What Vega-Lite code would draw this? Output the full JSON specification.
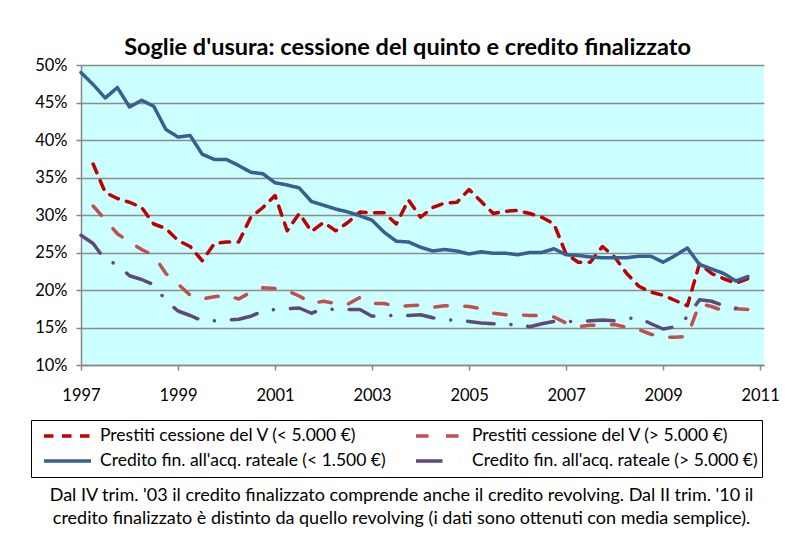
{
  "$schema": "https://vega.github.io/schema/vega-lite/v6.json",
  "width": 683,
  "height": 300,
  "padding": {"left": 30, "top": 35, "right": 5, "bottom": 5},
  "background": "white",
  "title": {
    "text": "Soglie d'usura: cessione del quinto e credito finalizzato",
    "font": "Lato",
    "fontSize": 23.5,
    "fontWeight": "bold",
    "color": "black",
    "offset": -2,
    "dx": -15
  },
  "data": {
    "values": [
      {"t": 1997.00, "p1": null, "p2": null, "c1": 49.0, "c2": 27.3},
      {"t": 1997.25, "p1": 36.8, "p2": 31.2, "c1": 47.4, "c2": 26.2},
      {"t": 1997.50, "p1": 33.0, "p2": 29.4, "c1": 45.6, "c2": 24.0},
      {"t": 1997.75, "p1": 32.2, "p2": 27.5, "c1": 47.0, "c2": 23.4},
      {"t": 1998.00, "p1": 31.7, "p2": 26.4, "c1": 44.4, "c2": 21.9},
      {"t": 1998.25, "p1": 31.0, "p2": 25.4, "c1": 45.3, "c2": 21.4},
      {"t": 1998.50, "p1": 28.8, "p2": 24.6, "c1": 44.5, "c2": 20.7},
      {"t": 1998.75, "p1": 28.2, "p2": 22.2, "c1": 41.4, "c2": 18.6},
      {"t": 1999.00, "p1": 26.6, "p2": 20.8, "c1": 40.4, "c2": 17.2},
      {"t": 1999.25, "p1": 25.8, "p2": 19.3, "c1": 40.6, "c2": 16.6},
      {"t": 1999.50, "p1": 23.9, "p2": 18.8, "c1": 38.1, "c2": 15.9},
      {"t": 1999.75, "p1": 26.2, "p2": 19.1, "c1": 37.4, "c2": 15.9},
      {"t": 2000.00, "p1": 26.4, "p2": 19.3, "c1": 37.4, "c2": 16.0},
      {"t": 2000.25, "p1": 26.4, "p2": 18.8, "c1": 36.6, "c2": 16.1},
      {"t": 2000.50, "p1": 29.7, "p2": 19.7, "c1": 35.7, "c2": 16.5},
      {"t": 2000.75, "p1": 31.0, "p2": 20.3, "c1": 35.5, "c2": 17.2},
      {"t": 2001.00, "p1": 32.6, "p2": 20.2, "c1": 34.3, "c2": 17.4},
      {"t": 2001.25, "p1": 27.9, "p2": 19.9, "c1": 34.0, "c2": 17.5},
      {"t": 2001.50, "p1": 30.2, "p2": 19.2, "c1": 33.6, "c2": 17.6},
      {"t": 2001.75, "p1": 27.8, "p2": 18.2, "c1": 31.8, "c2": 16.9},
      {"t": 2002.00, "p1": 29.0, "p2": 18.5, "c1": 31.3, "c2": 17.5},
      {"t": 2002.25, "p1": 27.9, "p2": 18.2, "c1": 30.8, "c2": 17.4},
      {"t": 2002.50, "p1": 29.0, "p2": 18.1, "c1": 30.4, "c2": 17.4},
      {"t": 2002.75, "p1": 30.4, "p2": 19.0, "c1": 29.9, "c2": 17.4},
      {"t": 2003.00, "p1": 30.3, "p2": 18.2, "c1": 29.3, "c2": 16.5},
      {"t": 2003.25, "p1": 30.3, "p2": 18.2, "c1": 27.7, "c2": 16.7},
      {"t": 2003.50, "p1": 28.8, "p2": 17.8, "c1": 26.5, "c2": 16.5},
      {"t": 2003.75, "p1": 32.0, "p2": 17.9, "c1": 26.4, "c2": 16.6},
      {"t": 2004.00, "p1": 29.7, "p2": 18.0, "c1": 25.7, "c2": 16.7},
      {"t": 2004.25, "p1": 31.0, "p2": 17.7, "c1": 25.2, "c2": 16.3},
      {"t": 2004.50, "p1": 31.6, "p2": 17.9, "c1": 25.4, "c2": 16.0},
      {"t": 2004.75, "p1": 31.7, "p2": 17.9, "c1": 25.2, "c2": 16.0},
      {"t": 2005.00, "p1": 33.4, "p2": 17.8, "c1": 24.8, "c2": 15.8},
      {"t": 2005.25, "p1": 31.8, "p2": 17.5, "c1": 25.1, "c2": 15.6},
      {"t": 2005.50, "p1": 30.2, "p2": 16.9, "c1": 24.9, "c2": 15.5},
      {"t": 2005.75, "p1": 30.5, "p2": 16.7, "c1": 24.9, "c2": 15.3},
      {"t": 2006.00, "p1": 30.6, "p2": 16.7, "c1": 24.7, "c2": 15.5},
      {"t": 2006.25, "p1": 30.2, "p2": 16.6, "c1": 25.0, "c2": 15.1},
      {"t": 2006.50, "p1": 29.7, "p2": 16.6, "c1": 25.0, "c2": 15.5},
      {"t": 2006.75, "p1": 28.8, "p2": 16.4, "c1": 25.5, "c2": 15.8},
      {"t": 2007.00, "p1": 24.8, "p2": 15.6, "c1": 24.7, "c2": 15.8},
      {"t": 2007.25, "p1": 23.7, "p2": 15.1, "c1": 24.6, "c2": 15.8},
      {"t": 2007.50, "p1": 23.7, "p2": 15.3, "c1": 24.4, "c2": 15.9},
      {"t": 2007.75, "p1": 25.8, "p2": 15.3, "c1": 24.3, "c2": 16.0},
      {"t": 2008.00, "p1": 24.4, "p2": 15.4, "c1": 24.3, "c2": 15.9},
      {"t": 2008.25, "p1": 22.2, "p2": 15.0, "c1": 24.3, "c2": 16.2},
      {"t": 2008.50, "p1": 20.5, "p2": 14.7, "c1": 24.5, "c2": 16.3},
      {"t": 2008.75, "p1": 19.7, "p2": 14.1, "c1": 24.5, "c2": 15.5},
      {"t": 2009.00, "p1": 19.3, "p2": 13.7, "c1": 23.7, "c2": 14.8},
      {"t": 2009.25, "p1": 18.6, "p2": 13.7, "c1": 24.6, "c2": 15.1},
      {"t": 2009.50, "p1": 17.9, "p2": 13.8, "c1": 25.6, "c2": 16.4},
      {"t": 2009.75, "p1": 23.5, "p2": 18.2, "c1": 23.4, "c2": 18.7},
      {"t": 2010.00, "p1": 22.2, "p2": 17.8, "c1": 22.8, "c2": 18.5},
      {"t": 2010.25, "p1": 21.5, "p2": 17.2, "c1": 22.2, "c2": 17.9},
      {"t": 2010.50, "p1": 20.9, "p2": 17.5, "c1": 21.2, "c2": 17.6},
      {"t": 2010.75, "p1": 21.5, "p2": 17.4, "c1": 21.8, "c2": 17.5}
    ]
  },
  "transform": [{"fold": ["p1", "p2", "c1", "c2"], "as": ["serie", "v"]}],
  "mark": {"type": "line", "strokeWidth": 3.5, "strokeCap": "round", "strokeJoin": "round"},
  "encoding": {
    "x": {
      "field": "t",
      "type": "quantitative",
      "scale": {"domain": [1997, 2011.08], "nice": false, "zero": false},
      "axis": {
        "values": [1997, 1999, 2001, 2003, 2005, 2007, 2009, 2011],
        "format": "d",
        "grid": false,
        "domainColor": "#868686",
        "domainWidth": 1.5,
        "tickColor": "#868686",
        "tickWidth": 1.5,
        "tickSize": 5,
        "labelPadding": 17,
        "labelFont": "Lato",
        "labelFontSize": 16.5,
        "labelColor": "black",
        "labelFlush": false,
        "title": [
          "Dal IV trim. '03 il credito finalizzato  comprende anche il credito revolving. Dal II trim. '10 il",
          "credito finalizzato  è distinto  da quello revolving (i dati sono ottenuti con media semplice)."
        ],
        "titleFont": "Lato",
        "titleFontSize": 18,
        "titleFontWeight": "normal",
        "titleColor": "black",
        "titleX": 320,
        "titleY": 121,
        "titleAlign": "center",
        "titleBaseline": "top",
        "titleLineHeight": 23
      }
    },
    "y": {
      "field": "v",
      "type": "quantitative",
      "scale": {"domain": [10, 50], "nice": false, "zero": false},
      "axis": {
        "values": [10, 15, 20, 25, 30, 35, 40, 45, 50],
        "labelExpr": "datum.value + '%'",
        "title": null,
        "grid": true,
        "gridColor": "#8C8C8C",
        "gridWidth": 1.5,
        "domainColor": "#868686",
        "domainWidth": 1.5,
        "tickColor": "#868686",
        "tickWidth": 1.5,
        "tickSize": 5,
        "labelPadding": 9,
        "labelFont": "Lato",
        "labelFontSize": 16.5,
        "labelColor": "black"
      }
    },
    "color": {
      "field": "serie",
      "type": "nominal",
      "scale": {"domain": ["p1", "p2", "c1", "c2"], "range": ["#C00000", "#C0504D", "#376092", "#5F497A"]},
      "legend": {
        "title": null,
        "labelExpr": "datum.label == 'p1' ? 'Prestiti cessione del V (< 5.000 €)' : datum.label == 'p2' ? 'Prestiti cessione del V (> 5.000 €)\u00a0\u00a0\u00a0\u00a0\u00a0\u00a0' : datum.label == 'c1' ? \"Credito fin. all'acq. rateale (< 1.500 €)\" : \"Credito fin. all'acq. rateale (> 5.000 €)\u00a0\u00a0\u00a0\u00a0\u00a0\u00a0\""
      }
    },
    "strokeDash": {
      "field": "serie",
      "type": "nominal",
      "scale": {"domain": ["p1", "p2", "c1", "c2"], "range": [[9.5, 8.5], [12.5, 17.5], [1, 0], [26.5, 17, 0.1, 17]]},
      "legend": {
        "title": null,
        "labelExpr": "datum.label == 'p1' ? 'Prestiti cessione del V (< 5.000 €)' : datum.label == 'p2' ? 'Prestiti cessione del V (> 5.000 €)\u00a0\u00a0\u00a0\u00a0\u00a0\u00a0' : datum.label == 'c1' ? \"Credito fin. all'acq. rateale (< 1.500 €)\" : \"Credito fin. all'acq. rateale (> 5.000 €)\u00a0\u00a0\u00a0\u00a0\u00a0\u00a0\""
      }
    }
  },
  "config": {
    "view": {"fill": "#CCFFFF", "stroke": null},
    "font": "Lato",
    "legend": {
      "orient": "none",
      "legendX": -50,
      "legendY": 355,
      "columns": 2,
      "direction": "horizontal",
      "symbolType": "stroke",
      "symbolSize": 2209,
      "symbolStrokeWidth": 3.5,
      "symbolOffset": 7.5,
      "clipHeight": 25,
      "labelFont": "Lato",
      "labelFontSize": 17.5,
      "labelColor": "black",
      "labelLimit": 400,
      "labelOffset": 7,
      "strokeColor": "black",
      "fillColor": "white",
      "padding": 3.5,
      "rowPadding": 0,
      "columnPadding": 20
    }
  }
}
